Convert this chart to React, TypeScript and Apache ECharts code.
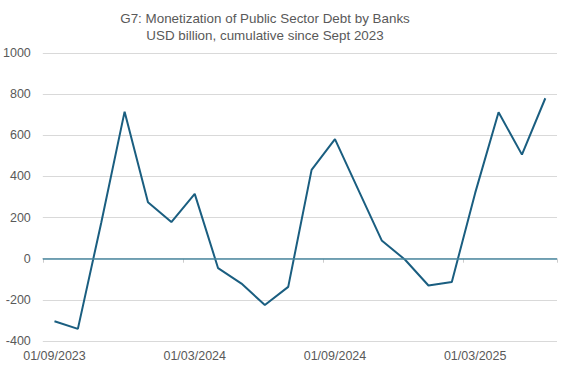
import React, { useEffect, useRef } from "react";
import * as echarts from "echarts";

const months = [
  "01/09/2023", "01/10/2023", "01/11/2023", "01/12/2023", "01/01/2024", "01/02/2024",
  "01/03/2024", "01/04/2024", "01/05/2024", "01/06/2024", "01/07/2024", "01/08/2024",
  "01/09/2024", "01/10/2024", "01/11/2024", "01/12/2024", "01/01/2025", "01/02/2025",
  "01/03/2025", "01/04/2025", "01/05/2025", "01/06/2025",
];
const monetization = [
  -304, -341, 175, 715, 275, 178, 315, -46, -121, -225, -137, 432,
  581, 335, 89, -5, -130, -113, 320, 712, 506, 780,
];
const titleLines = ["G7: Monetization of Public Sector Debt by Banks", "USD billion, cumulative since Sept 2023"];

const FONT = "Liberation Sans";
const GRAY = "#595959";

export default function App() {
  const ref = useRef<HTMLDivElement>(null);
  useEffect(() => {
    if (!ref.current) return;
    const chart = echarts.init(ref.current, null, { renderer: "svg" });
    chart.setOption({
      animation: false,
      backgroundColor: "#ffffff",
      title: {
        text: titleLines.join("\n"),
        left: 260,
        top: 5,
        textAlign: "center",
        textStyle: {
          fontFamily: FONT,
          fontSize: 13.4,
          fontWeight: "normal",
          color: GRAY,
          lineHeight: 17,
          align: "center",
        },
      },
      grid: { left: 40, right: 5, top: 53, bottom: 26, containLabel: false },
      xAxis: [
        {
          type: "category",
          data: months,
          boundaryGap: true,
          axisLine: { show: true, onZero: true, lineStyle: { color: "#d9d9d9", width: 1 } },
          axisTick: { show: true, interval: 5, length: 4, lineStyle: { color: "#cccccc" } },
          axisLabel: { show: false },
          splitLine: { show: false },
        },
        {
          type: "category",
          data: months,
          boundaryGap: true,
          position: "bottom",
          axisLine: { show: false, onZero: false },
          axisTick: { show: false },
          axisLabel: {
            show: true,
            interval: 5,
            color: GRAY,
            fontFamily: FONT,
            fontSize: 12.5,
            margin: 8,
          },
          splitLine: { show: false },
        },
      ],
      yAxis: {
        type: "value",
        min: -400,
        max: 1000,
        interval: 200,
        axisLine: { show: false },
        axisTick: { show: false },
        axisLabel: {
          color: GRAY,
          fontFamily: FONT,
          fontSize: 12.5,
          margin: 12,
          formatter: (v: number) => String(v),
        },
        splitLine: { lineStyle: { color: "#d9d9d9", width: 1 } },
      },
      series: [
        {
          type: "line",
          xAxisIndex: 0,
          data: monetization,
          symbol: "none",
          lineStyle: { color: "#1a5e80", width: 2 },
          markLine: {
            silent: true,
            symbol: "none",
            label: { show: false },
            lineStyle: { color: "#4a88a0", width: 1.5, type: "solid" },
            data: [{ yAxis: 0 }],
          },
          z: 3,
        },
      ],
    });
    return () => chart.dispose();
  }, []);
  return <div ref={ref} style={{ width: 562, height: 367, position: "absolute", left: 0, top: 0 }} />;
}
